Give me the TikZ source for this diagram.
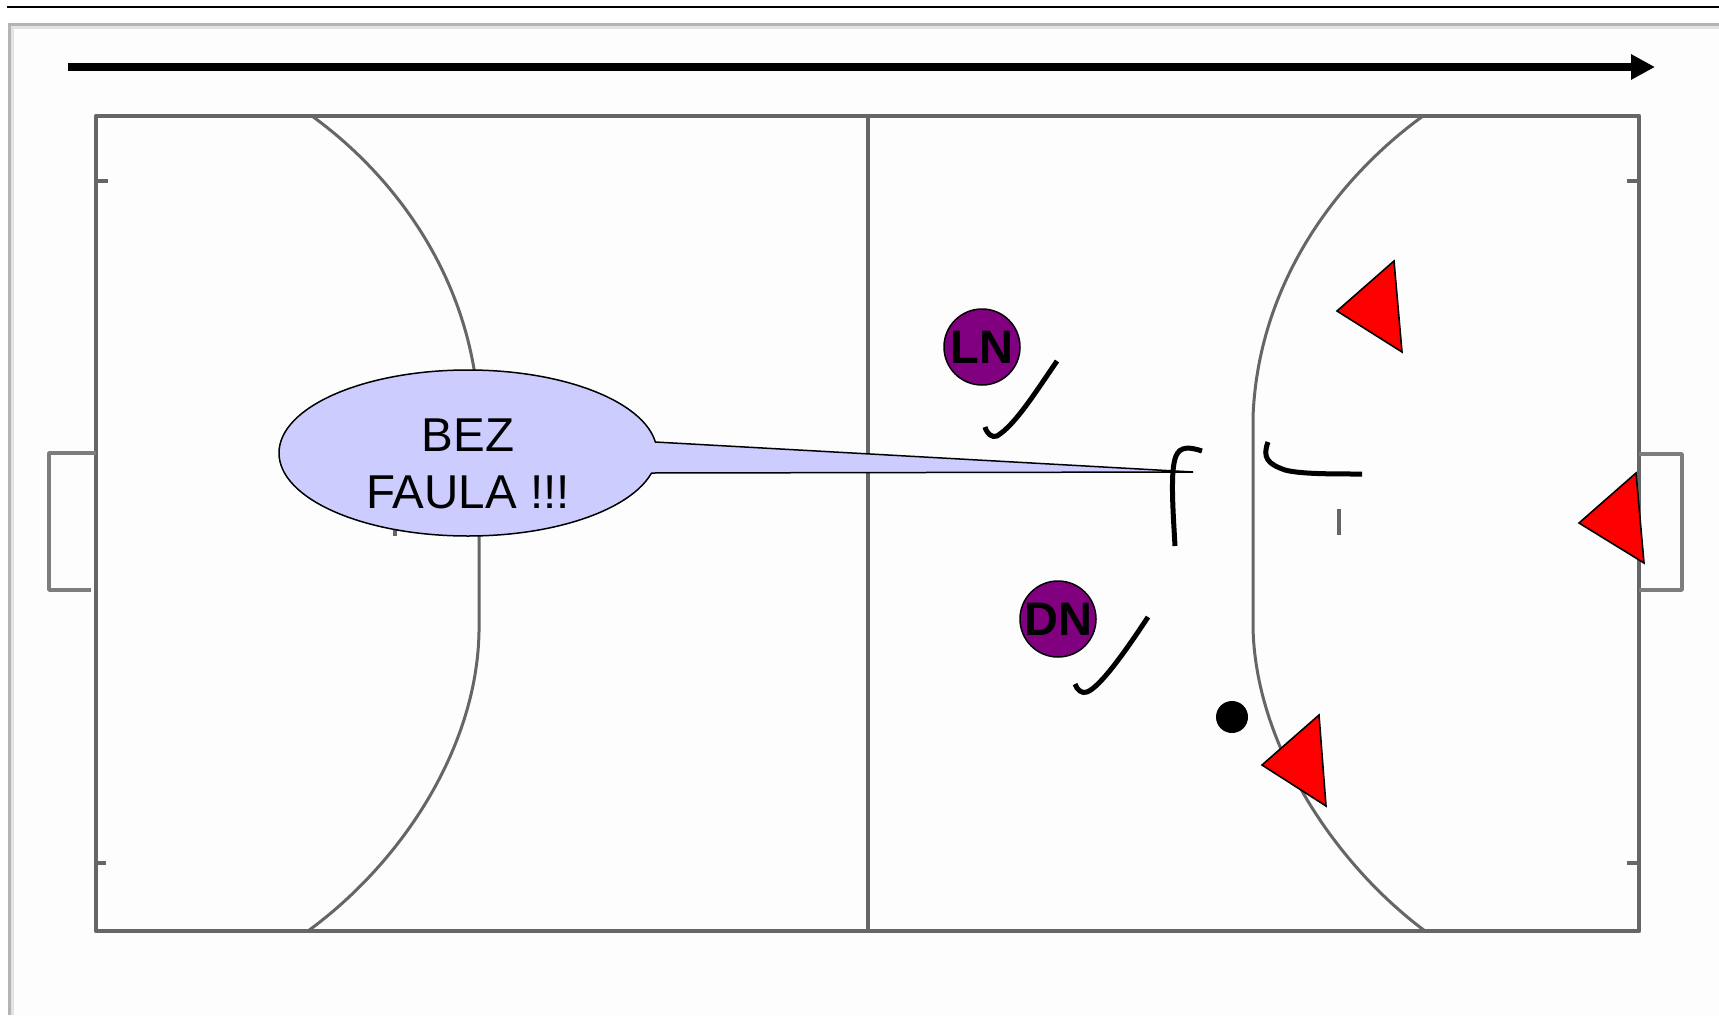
\documentclass[tikz,border=0pt]{standalone}
\usepackage{fontspec}
\setmainfont{Liberation Sans}
\usetikzlibrary{arrows.meta,shapes.geometric}
\definecolor{fieldline}{HTML}{666666}
\definecolor{panelline}{HTML}{B4B4B4}
\definecolor{panelsoft}{HTML}{E2E2E2}
\definecolor{panelfill}{HTML}{FDFDFD}
\definecolor{bubblefill}{HTML}{CCCCFF}
\definecolor{playerfill}{HTML}{800080}
\tikzset{
  fieldstroke/.style={draw=fieldline,line width=4.4pt,line join=round},
  goalstroke/.style={draw=fieldline!85,line width=3.6pt,line join=round},
  arcstroke/.style={draw=fieldline,line width=3pt},
  markstroke/.style={draw=fieldline,line width=3.4pt},
  stickstroke/.style={draw=black,line width=5pt},
  defender/.style={draw=black,fill=red,line width=1.6pt,line join=miter},
  player/.style={circle,draw=black,fill=playerfill,line width=1.5pt,minimum size=76pt,inner sep=0pt,font=\fontsize{47}{47}\selectfont\bfseries},
  bubble/.style={ellipse,draw=black,fill=bubblefill,line width=1.5pt,minimum width=378pt,minimum height=166pt,inner sep=0pt},
  bubbletextstyle/.style={align=center,inner sep=0pt,font=\fontsize{47.5}{57}\selectfont}
}
\begin{document}
\begin{tikzpicture}[x=1pt,y=-1pt]
\useasboundingbox (0,0) rectangle (1719,1015);
\fill[white] (0,0) rectangle (1719,1015);
% page rule and panel
\fill[panelfill] (10,25) rectangle (1719,1015);
\draw[panelsoft,line width=3pt] (12.5,1015) -- (12.5,27.5) -- (1719,27.5);
\draw[panelline,line width=3.5pt] (9.5,1015) -- (9.5,24.5) -- (1719,24.5);
\draw[black,line width=2pt] (7,6.7) -- (1719,6.7);
% direction arrow
\coordinate (arrowstart) at (68,67);
\coordinate (arrowend) at (1655,67);
\draw[black,line width=8pt,-{Triangle[length=24pt,width=24pt]}] (arrowstart) -- (arrowend);
% field
\draw[fieldstroke] (96,116) rectangle (1639,931);
\draw[fieldstroke] (868,116) -- (868,931);
\draw[markstroke] (96,181) -- (108,181);
\draw[markstroke] (96,863) -- (106,863);
\draw[markstroke] (1627,181) -- (1639,181);
\draw[markstroke] (1627,863) -- (1639,863);
\draw[goalstroke] (96,453) -- (49,453) -- (49,590) -- (91,590);
\draw[goalstroke] (1639,454) -- (1682,454) -- (1682,590) -- (1639,590);
\draw[arcstroke] (312,116) .. controls (400,180) and (474,285) .. (479,417) -- (479,632) .. controls (477,745) and (405,860) .. (308,931);
\draw[arcstroke] (1423,116) .. controls (1335,180) and (1258,285) .. (1253,417) -- (1253,627) .. controls (1255,740) and (1330,860) .. (1425,931);
\draw[markstroke] (395,509) -- (395,536);
\draw[markstroke] (1339,509) -- (1339,535);
% callout
\node[bubble] (callout) at (468,453) {};
\coordinate (tailA) at (655,442);
\coordinate (tailB) at (651,473);
\coordinate (tailtip) at (1193,472);
\fill[bubblefill] (640,442) -- (tailA) -- (tailtip) -- (tailB) -- (640,473) -- cycle;
\draw[black,line width=1.5pt,line join=miter] (tailA) -- (tailtip) -- (tailB);
\node[bubbletextstyle] (callouttext) at (468,464) {BEZ\\FAULA !!!};
% defenders
\draw[defender] (1337,311) -- (1394,261) -- (1402,352) -- cycle;
\draw[defender] (1579,523) -- (1636,473) -- (1644,563) -- cycle;
\draw[defender] (1262,765) -- (1319,715) -- (1326,806) -- cycle;
% players and ball
\node[player] (LN) at (982,347) {\raisebox{-2pt}{LN}};
\node[player] (DN) at (1058,619) {\raisebox{-2pt}{DN}};
\fill[black] (1232,717) circle (16pt);
% hand-drawn strokes
\draw[stickstroke] (1057,361) .. controls (1035,393) and (1015,425) .. (997,436) .. controls (992,438) and (987,434) .. (985,427);
\draw[stickstroke] (1148,617) .. controls (1125,652) and (1100,687) .. (1087,692) .. controls (1082,694) and (1077,690) .. (1075,684);
\draw[stickstroke] (1202,451) .. controls (1190,447) and (1180,446) .. (1176,456) .. controls (1170,470) and (1173,510) .. (1175,546);
\draw[stickstroke] (1268,442) .. controls (1262,458) and (1268,464) .. (1285,470) .. controls (1300,474) and (1330,474) .. (1362,474);
\end{tikzpicture}
\end{document}
